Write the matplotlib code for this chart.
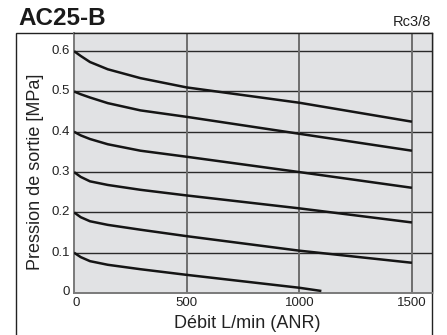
import matplotlib.pyplot as plt
from matplotlib.patches import Rectangle

plt.rcParams["font.family"] = ["Liberation Sans", "DejaVu Sans"]

# DATOS

flow = [0, 30, 71, 150, 295, 500, 1000, 1500]
p06 = [0.600, 0.588, 0.573, 0.555, 0.533, 0.510, 0.472, 0.425]
p05 = [0.500, 0.493, 0.485, 0.471, 0.453, 0.437, 0.395, 0.353]
p04 = [0.400, 0.391, 0.382, 0.369, 0.353, 0.338, 0.300, 0.261]
p03 = [0.300, 0.288, 0.277, 0.268, 0.256, 0.242, 0.210, 0.175]
p02 = [0.200, 0.188, 0.178, 0.169, 0.157, 0.141, 0.105, 0.075]
flow01 = [0, 30, 71, 150, 295, 500, 1000, 1098]
p01 = [0.100, 0.089, 0.079, 0.070, 0.059, 0.045, 0.013, 0.005]

curves = [(flow, p06), (flow, p05), (flow, p04), (flow, p03), (flow, p02), (flow01, p01)]

x_ticks = [0, 500, 1000, 1500]
x_ticklabels = ["0", "500", "1000", "1500"]
y_ticks = [0.1, 0.2, 0.3, 0.4, 0.5, 0.6]
y_ticklabels = ["0.1", "0.2", "0.3", "0.4", "0.5", "0.6"]

title = "AC25-B"
port = "Rc3/8"
xlabel = "Débit L/min (ANR)"
ylabel = "Pression de sortie [MPa]"

# DIBUJO

fig = plt.figure(figsize=(4.47, 3.35), dpi=100)
ax = fig.add_axes([74 / 447, 42 / 335, 358 / 447, 260 / 335])
ax.set_facecolor("#e1e2e4")
ax.set_xlim(0, 1589)
ax.set_ylim(0, 0.645)

for y in y_ticks:
    ax.axhline(y, color="#2a2a2a", lw=1.0, zorder=1)
for x in x_ticks[1:]:
    ax.axvline(x, color="#6e6e6e", lw=1.4, zorder=1)

for fx, py in curves:
    ax.plot(fx, py, color="#151515", lw=1.8, solid_capstyle="butt",
            solid_joinstyle="round", zorder=3)

ax.set_xticks([])
ax.set_yticks([])
for s in ["left", "bottom"]:
    ax.spines[s].set_color("#7a7a7a")
    ax.spines[s].set_linewidth(1.4)
for s in ["top", "right"]:
    ax.spines[s].set_color("#222222")
    ax.spines[s].set_linewidth(1.0)

# etiquetas de ejes
for y, lab in zip(y_ticks, y_ticklabels):
    ax.text(-18, y, lab, ha="right", va="center", fontsize=9.5, color="#222222")
ax.text(-18, 0.002, "0", ha="right", va="center", fontsize=9.5, color="#222222")
for x, lab in zip(x_ticks, x_ticklabels):
    ax.text(x + (10 if x == 0 else 0), -0.009, lab, ha="center", va="top",
            fontsize=9.5, color="#222222")

fig.text(247 / 447, 1 - 328 / 335, xlabel, ha="center", va="baseline", fontsize=13, color="#222222")
fig.text(36 / 447, 1 - 172 / 335, ylabel, ha="center", va="center", rotation=90,
         fontsize=13, color="#222222")

fig.text(18 / 447, 1 - 25 / 335, title, ha="left", va="baseline", fontsize=17.5,
         fontweight="bold", color="#1a1a1a")
fig.text(431 / 447, 1 - 26 / 335, port, ha="right", va="baseline", fontsize=10.5, color="#222222")

# marco exterior
fig.add_artist(Rectangle((16 / 447, -0.01), 416 / 447, 1 - 33 / 335 + 0.01,
                         transform=fig.transFigure, fill=False, lw=1.0,
                         edgecolor="#222222", zorder=0))

fig.savefig("out.png", dpi=100)
